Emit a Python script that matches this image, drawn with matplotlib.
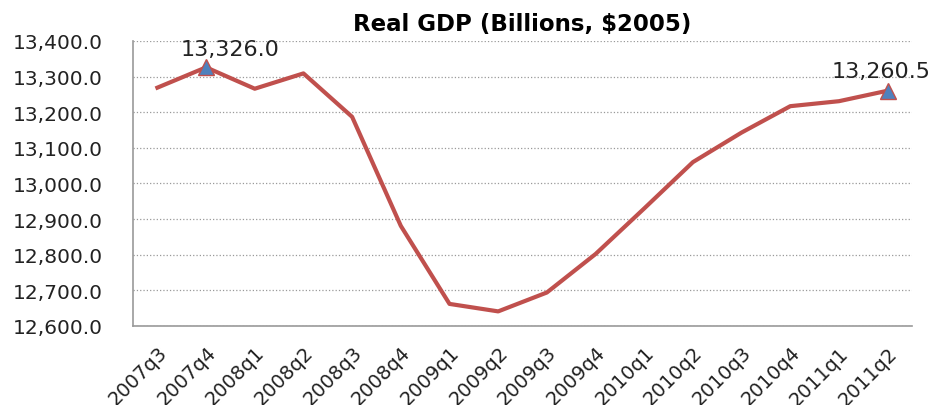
import matplotlib.pyplot as plt
from matplotlib.ticker import FuncFormatter

quarters = ['2007q3', '2007q4', '2008q1', '2008q2', '2008q3', '2008q4',
            '2009q1', '2009q2', '2009q3', '2009q4', '2010q1', '2010q2',
            '2010q3', '2010q4', '2011q1', '2011q2']
gdp = [13269, 13326.0, 13266, 13309, 13187, 12881,
       12662, 12641, 12694, 12802, 12930, 13060,
       13143, 13217, 13231, 13260.5]
marked = [1, 15]  # points with a triangle and label

fig = plt.figure(figsize=(9.33, 4.06), dpi=100)
ax = fig.add_axes([0.1426, 0.1946, 0.8349, 0.702])

x = range(len(quarters))
ax.plot(x, gdp, color='#C0504D', lw=3, zorder=3)
ax.plot(marked, [gdp[i] for i in marked], ls='none', marker='^',
        ms=12, mfc='#4F81BD', mec='#C0504D', mew=1, zorder=4)
ax.annotate(f'{gdp[1]:,.1f}', (1, gdp[1]), xytext=(17, 6), textcoords='offset points',
            ha='center', va='bottom', fontsize=16, color='#222222')
ax.annotate(f'{gdp[15]:,.1f}', (15, gdp[15]), xytext=(-5, 7), textcoords='offset points',
            ha='center', va='bottom', fontsize=16, color='#222222', annotation_clip=False)

ax.set_xlim(-0.5, len(quarters) - 0.5)
ax.set_ylim(12600, 13400)
ax.set_yticks(range(12600, 13401, 100))
ax.yaxis.set_major_formatter(FuncFormatter(lambda v, p: f'{v:,.1f}'))
ax.set_xticks(list(x))
ax.set_xticklabels(quarters, rotation=45, ha='right', va='top', rotation_mode='anchor')
ax.tick_params(axis='both', length=0, labelsize=14.5, colors='#222222')
ax.tick_params(axis='x', pad=12, labelsize=14)
ax.tick_params(axis='y', pad=22)

ax.grid(axis='y', ls=':', color='#999999', lw=0.9)
ax.set_axisbelow(True)
for s in ['top', 'right']:
    ax.spines[s].set_visible(False)
for s in ['left', 'bottom']:
    ax.spines[s].set_color('#999999')
    ax.spines[s].set_linewidth(1.2)

ax.set_title('Real GDP (Billions, $2005)', fontsize=16.5, fontweight='bold', pad=8)

fig.savefig('out.png')
